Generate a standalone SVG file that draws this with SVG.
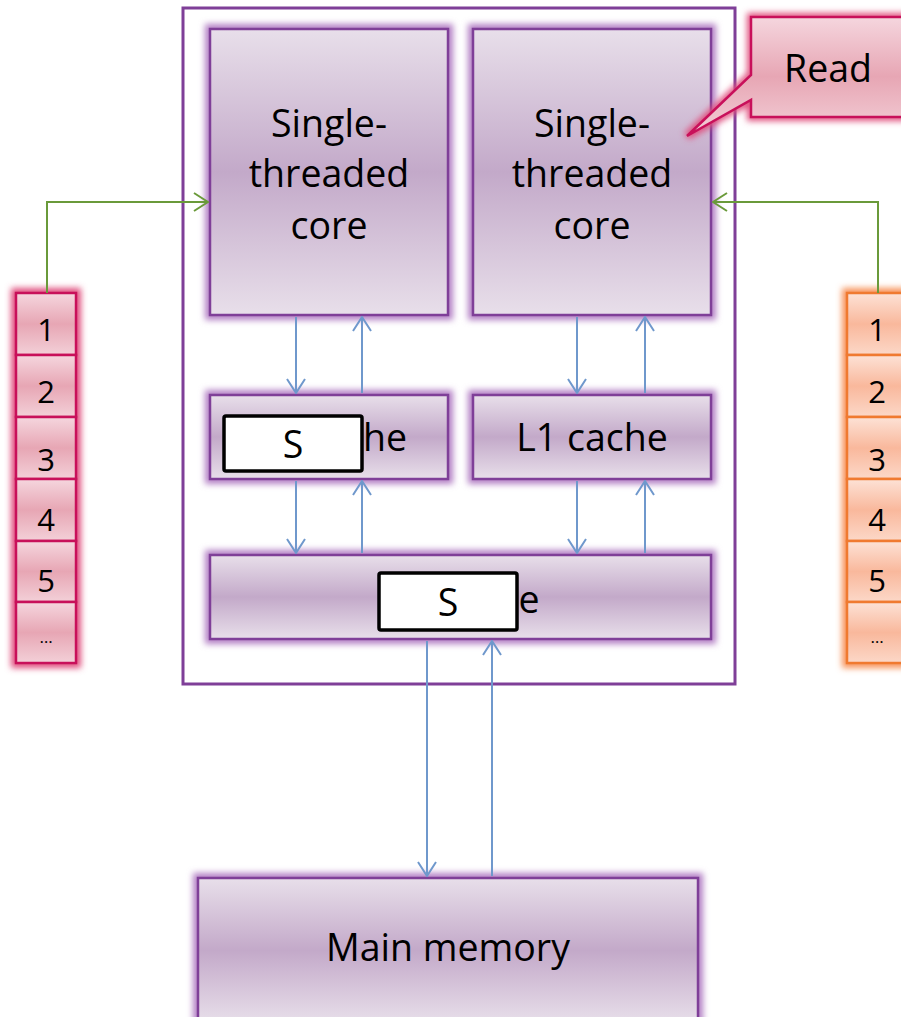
<svg xmlns="http://www.w3.org/2000/svg" width="901" height="1017" viewBox="0 0 901 1017">
<style>
text{font-family:"Open Sans","Noto Sans","Liberation Sans",sans-serif;fill:#000;text-anchor:middle}
.big{font-size:37.5px}
.num{font-size:31px}
.box{fill:url(#gp);stroke:#7f3f98;stroke-width:2.5}
.glowp{fill:none;stroke:#b27fc4;stroke-width:10;filter:url(#blur)}
.glowr{fill:none;stroke:#e0507e;stroke-width:10;filter:url(#blur)}
.glowo{fill:none;stroke:#f7935a;stroke-width:10;filter:url(#blur)}
.reg{fill:url(#gr);stroke:#c8105a;stroke-width:2.5}
.org{fill:url(#go);stroke:#f07a30;stroke-width:2.5}
.blue{stroke:#6f98cc;stroke-width:2;fill:none}
.green{stroke:#6a9a3a;stroke-width:2;fill:none}
.wb{fill:#fff;stroke:#000;stroke-width:3.5}
</style>
<defs>
<linearGradient id="gp" x1="0" y1="0" x2="0" y2="1">
<stop offset="0" stop-color="#e8dfea"/><stop offset="0.5" stop-color="#c3a9c9"/><stop offset="1" stop-color="#e8dfea"/>
</linearGradient>
<linearGradient id="gr" x1="0" y1="0" x2="0" y2="1">
<stop offset="0" stop-color="#f5d6de"/><stop offset="0.5" stop-color="#e7a6b4"/><stop offset="1" stop-color="#f3d0d8"/>
</linearGradient>
<linearGradient id="go" x1="0" y1="0" x2="0" y2="1">
<stop offset="0" stop-color="#fde2d6"/><stop offset="0.5" stop-color="#f9b89c"/><stop offset="1" stop-color="#fcd8c8"/>
</linearGradient>
<filter id="blur" x="-20%" y="-20%" width="140%" height="140%"><feGaussianBlur stdDeviation="3"/></filter>
<marker id="ab" viewBox="0 0 16 20" refX="15" refY="10" markerWidth="16" markerHeight="20" markerUnits="userSpaceOnUse" orient="auto">
<path d="M1,1 L15,10 L1,19" fill="none" stroke="#6f98cc" stroke-width="2"/>
</marker>
<marker id="ag" viewBox="0 0 16 20" refX="15" refY="10" markerWidth="16" markerHeight="20" markerUnits="userSpaceOnUse" orient="auto">
<path d="M1,1 L15,10 L1,19" fill="none" stroke="#6a9a3a" stroke-width="2"/>
</marker>
</defs>
<rect width="901" height="1017" fill="#fff"/>

<g id="chip">
<rect x="183" y="8" width="552" height="676" fill="none" stroke="#7f3f98" stroke-width="3"/>
</g>

<g id="core1">
<rect class="glowp" x="210" y="29" width="238" height="286"/>
<rect class="box" x="210" y="29" width="238" height="286"/>
<text class="big" x="329" y="137">Single-</text>
<text class="big" x="329" y="187">threaded</text>
<text class="big" x="329" y="239">core</text>
</g>
<g id="core2">
<rect class="glowp" x="473" y="29" width="238" height="286"/>
<rect class="box" x="473" y="29" width="238" height="286"/>
<text class="big" x="592" y="137">Single-</text>
<text class="big" x="592" y="187">threaded</text>
<text class="big" x="592" y="239">core</text>
</g>
<g id="l1left">
<rect class="glowp" x="210" y="395" width="238" height="84"/>
<rect class="box" x="210" y="395" width="238" height="84"/>
<text class="big" x="385" y="451">he</text>
<rect class="wb" x="224" y="416" width="138" height="55" rx="2"/>
<text class="big" x="293" y="458">S</text>
</g>
<g id="l1right">
<rect class="glowp" x="473" y="395" width="238" height="84"/>
<rect class="box" x="473" y="395" width="238" height="84"/>
<text class="big" x="592" y="451">L1 cache</text>
</g>
<g id="l2">
<rect class="glowp" x="210" y="555" width="501" height="84"/>
<rect class="box" x="210" y="555" width="501" height="84"/>
<text class="big" x="529" y="613">e</text>
<rect class="wb" x="379" y="573" width="138" height="57" rx="2"/>
<text class="big" x="448" y="616">S</text>
</g>
<g id="memory">
<rect class="glowp" x="198" y="878" width="500" height="145"/>
<rect class="box" x="198" y="878" width="500" height="145"/>
<text class="big" x="448" y="961">Main memory</text>
</g>

<g id="regleft">
<rect class="glowr" x="16" y="293" width="60" height="370"/>
<rect class="reg" x="16" y="293" width="60" height="62"/>
<rect class="reg" x="16" y="355" width="60" height="62"/>
<rect class="reg" x="16" y="417" width="60" height="62"/>
<rect class="reg" x="16" y="479" width="60" height="62"/>
<rect class="reg" x="16" y="541" width="60" height="61"/>
<rect class="reg" x="16" y="602" width="60" height="61"/>
<text class="num" x="46" y="341">1</text>
<text class="num" x="46" y="403">2</text>
<text class="num" x="46" y="471">3</text>
<text class="num" x="46" y="531">4</text>
<text class="num" x="46" y="592">5</text>
<text x="46" y="643" style="font-size:17px">…</text>
</g>
<g id="regright">
<rect class="glowo" x="847" y="293" width="60" height="370"/>
<rect class="org" x="847" y="293" width="60" height="62"/>
<rect class="org" x="847" y="355" width="60" height="62"/>
<rect class="org" x="847" y="417" width="60" height="62"/>
<rect class="org" x="847" y="479" width="60" height="62"/>
<rect class="org" x="847" y="541" width="60" height="61"/>
<rect class="org" x="847" y="602" width="60" height="61"/>
<text class="num" x="877" y="341">1</text>
<text class="num" x="877" y="403">2</text>
<text class="num" x="877" y="471">3</text>
<text class="num" x="877" y="531">4</text>
<text class="num" x="877" y="592">5</text>
<text x="877" y="643" style="font-size:17px">…</text>
</g>

<g id="callout">
<path d="M751,17 H910 V117 H751 V100 L687,136 L751,75 Z" fill="none" stroke="#e0507e" stroke-width="8" filter="url(#blur)"/>
<path d="M751,17 H910 V117 H751 V100 L687,136 L751,75 Z" fill="url(#gr)" stroke="#c8105a" stroke-width="2.5"/>
<text class="big" x="828" y="82">Read</text>
</g>

<g id="connectors">
<path class="green" d="M47,293 V202 H208" marker-end="url(#ag)"/>
<path class="green" d="M878,293 V202 H713" marker-end="url(#ag)"/>
<line class="blue" x1="296" y1="317" x2="296" y2="393" marker-end="url(#ab)"/>
<line class="blue" x1="362" y1="393" x2="362" y2="317" marker-end="url(#ab)"/>
<line class="blue" x1="577" y1="317" x2="577" y2="393" marker-end="url(#ab)"/>
<line class="blue" x1="645" y1="393" x2="645" y2="317" marker-end="url(#ab)"/>
<line class="blue" x1="296" y1="481" x2="296" y2="553" marker-end="url(#ab)"/>
<line class="blue" x1="362" y1="553" x2="362" y2="481" marker-end="url(#ab)"/>
<line class="blue" x1="577" y1="481" x2="577" y2="553" marker-end="url(#ab)"/>
<line class="blue" x1="645" y1="553" x2="645" y2="481" marker-end="url(#ab)"/>
<line class="blue" x1="427" y1="641" x2="427" y2="876" marker-end="url(#ab)"/>
<line class="blue" x1="492" y1="876" x2="492" y2="641" marker-end="url(#ab)"/>
</g>
</svg>
